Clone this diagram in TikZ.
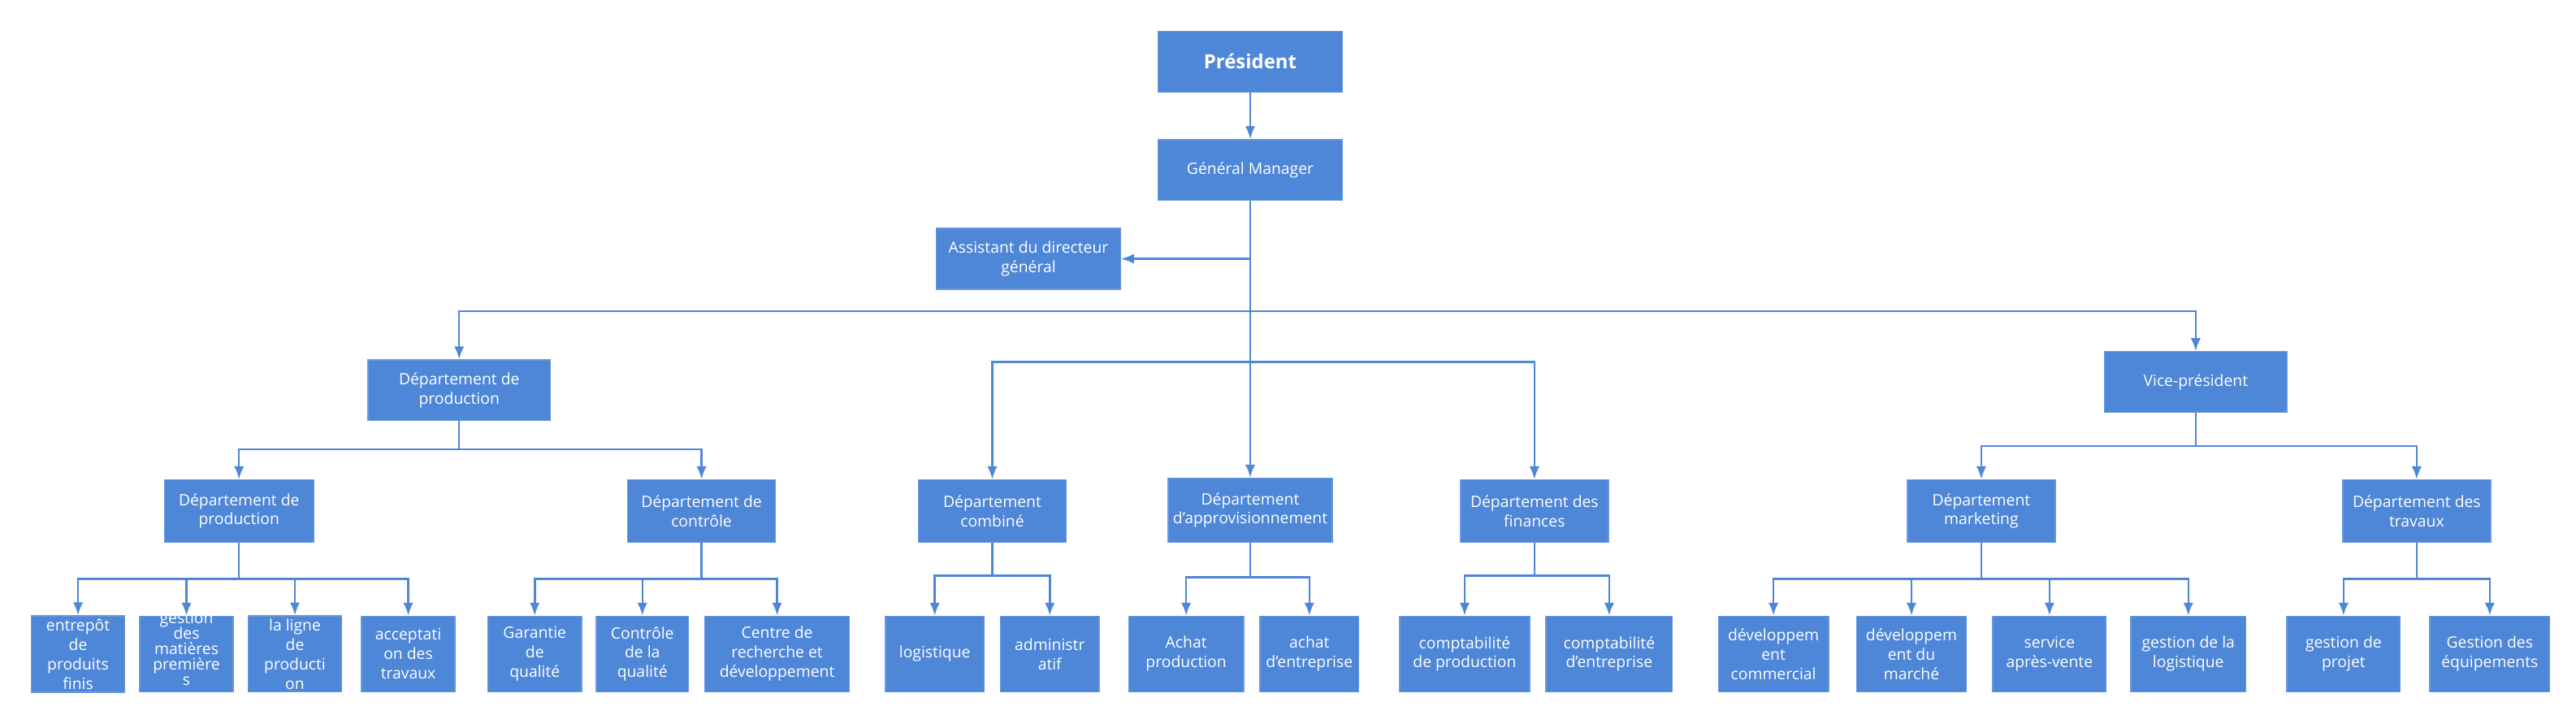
\documentclass[tikz,border=0pt]{standalone}
\usepackage{fontspec}
\setmainfont{Open Sans}
\usetikzlibrary{arrows.meta}
\definecolor{boxblue}{HTML}{4E86D8}
\tikzset{
  box/.style={fill=boxblue, draw=boxblue!85!white, text=white, align=center, inner sep=1pt,
    font=\fontsize{5.5}{6.8}\selectfont},
  arr/.style={draw=boxblue, line width=0.7pt, -{Latex[length=4.5pt,width=3.5pt]}},
}
% box from corner (x1,y1) to (x2,y2), in px
\newcommand{\orgbox}[6]{%
  \node[box, minimum width={(#4-#2)*0.0202cm}, minimum height={(#5-#3)*0.0202cm}]
    (#1) at ({(#2+#4)/2},{(#3+#5)/2}) {#6};}
\begin{document}
\begin{tikzpicture}[x=0.0202cm, y=-0.0202cm]
    \useasboundingbox (0,0) rectangle (1568,442.6);
    \orgbox{pres}{705}{19}{817}{56}{\fontsize{6.8}{8}\selectfont\bfseries Président}
    \orgbox{gm}{705}{85}{817}{122}{Général Manager}
    \orgbox{asst}{570}{139}{682}{176}{Assistant du directeur\\général}
    \orgbox{dprod}{224}{219}{335}{256}{Département de\\production}
    \orgbox{vp}{1281}{214}{1392}{251}{Vice-président}
    \orgbox{comb}{559}{292}{649}{330}{Département\\combiné}
    \orgbox{appro}{711}{291}{811}{330}{Département\\d'approvisionnement}
    \orgbox{fin}{889}{292}{979}{330}{Département des\\finances}
    \orgbox{prod}{100}{292}{191}{330}{Département de\\production}
    \orgbox{ctrl}{382}{292}{472}{330}{Département de\\contrôle}
    \orgbox{mkt}{1161}{292}{1251}{330}{Département\\marketing}
    \orgbox{trav}{1426}{292}{1516}{330}{Département des\\travaux}
    % leaves
    \orgbox{entr}{19}{375}{76}{421}{entrepôt\\de\\produits\\finis}
    \orgbox{gmat}{85}{375}{142}{421}{\smash{\begin{tabular}{@{}c@{}}gestion\\[-1.4pt]des\\[-1.4pt]matières\\[-1.4pt]première\\[-1.4pt]s\end{tabular}}}
    \orgbox{ligne}{151}{375}{208}{421}{la ligne\\de\\producti\\on}
    \orgbox{accept}{220}{375}{277}{421}{acceptati\\on des\\travaux}
    \orgbox{garq}{297}{375}{354}{421}{Garantie\\de\\qualité}
    \orgbox{ctrlq}{363}{375}{419}{421}{Contrôle\\de la\\qualité}
    \orgbox{rd}{429}{375}{517}{421}{Centre de\\recherche et\\développement}
    \orgbox{logi}{539}{375}{599}{421}{logistique}
    \orgbox{admin}{609}{375}{669}{421}{administr\\atif}
    \orgbox{achp}{687}{375}{757}{421}{Achat\\production}
    \orgbox{ache}{767}{375}{827}{421}{achat\\d'entreprise}
    \orgbox{comptp}{852}{375}{931}{421}{comptabilité\\de production}
    \orgbox{compte}{941}{375}{1018}{421}{comptabilité\\d'entreprise}
    \orgbox{devc}{1046}{375}{1113}{421}{développem\\ent\\commercial}
    \orgbox{devm}{1130}{375}{1197}{421}{développem\\ent du\\marché}
    \orgbox{sav}{1213}{375}{1282}{421}{service\\après-vente}
    \orgbox{glog}{1297}{375}{1367}{421}{gestion de la\\logistique}
    \orgbox{gproj}{1392}{375}{1461}{421}{gestion de\\projet}
    \orgbox{gequip}{1479}{375}{1552}{421}{Gestion des\\équipements}
    % connectors
    \draw[arr] (pres) -- (gm);
    \draw[arr] (gm.south) |- (asst.east);
    \foreach \c in {dprod,vp} \draw[arr] (gm.south) -- ++(0,67) -| (\c.north);
    \foreach \c in {comb,fin} \draw[arr] (gm.south) -- ++(0,98) -| (\c.north);
    \draw[arr] (gm.south) -- (appro.north);
    \foreach \c in {prod,ctrl} \draw[arr] (dprod.south) -- ++(0,17) -| (\c.north);
    \foreach \c in {mkt,trav} \draw[arr] (vp.south) -- ++(0,20) -| (\c.north);
    \foreach \c in {entr,gmat,ligne,accept} \draw[arr] (prod.south) -- ++(0,22) -| (\c.north);
    \foreach \c in {garq,ctrlq,rd} \draw[arr] (ctrl.south) -- ++(0,22) -| (\c.north);
    \foreach \c in {logi,admin} \draw[arr] (comb.south) -- ++(0,20) -| (\c.north);
    \foreach \c in {achp,ache} \draw[arr] (appro.south) -- ++(0,21) -| (\c.north);
    \foreach \c in {comptp,compte} \draw[arr] (fin.south) -- ++(0,20) -| (\c.north);
    \foreach \c in {devc,devm,sav,glog} \draw[arr] (mkt.south) -- ++(0,22) -| (\c.north);
    \foreach \c in {gproj,gequip} \draw[arr] (trav.south) -- ++(0,22) -| (\c.north);
\end{tikzpicture}
\end{document}
